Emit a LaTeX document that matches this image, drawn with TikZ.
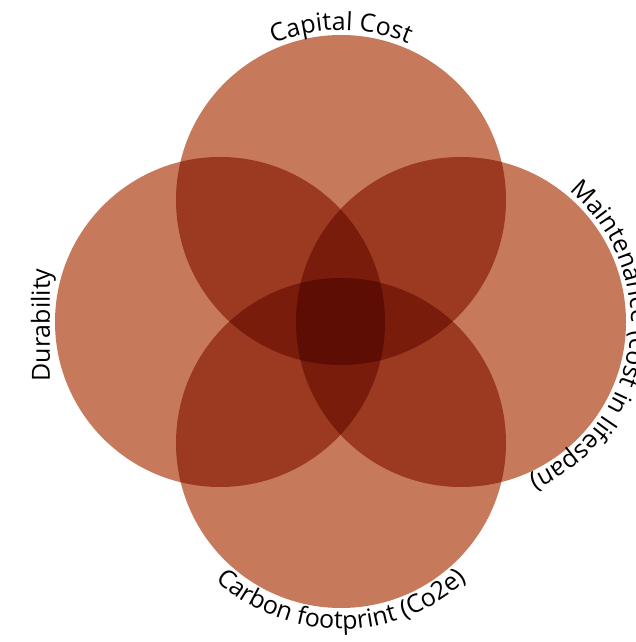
\documentclass[tikz,border=0pt]{standalone}
\usepackage{fontspec}
\setmainfont{Open Sans}
\usetikzlibrary{decorations.text}
\definecolor{cA}{RGB}{199,122,91}
\definecolor{cB}{RGB}{155,58,32}
\definecolor{cC}{RGB}{121,28,11}
\definecolor{cD}{RGB}{94,13,4}
\newcommand{\tfont}{\fontsize{25}{29}\selectfont}
\begin{document}
\begin{tikzpicture}[x=1pt,y=1pt,
  curvedlabel/.style={decorate, decoration={text along path, text align=center, text={|\tfont|#1}}}]
\useasboundingbox (0,0) rectangle (635,642);
\clip (0,0) rectangle (635,642);
\coordinate (T) at (341,442);
\coordinate (L) at (220,320);
\coordinate (R) at (461,320);
\coordinate (B) at (341,199);
\def\rr{165pt}
% single
\foreach \c in {T,L,R,B} {\fill[cA] (\c) circle[radius=\rr];}
% pairs
\foreach \a/\b in {T/L,T/R,B/L,B/R,T/B,L/R} {
  \begin{scope}\clip (\a) circle[radius=\rr]; \fill[cB] (\b) circle[radius=\rr];\end{scope}}
% triples
\foreach \a/\b/\c in {T/L/R,T/L/B,T/R/B,L/R/B} {
  \begin{scope}\clip (\a) circle[radius=\rr]; \clip (\b) circle[radius=\rr]; \fill[cC] (\c) circle[radius=\rr];\end{scope}}
% quadruple
\begin{scope}\clip (T) circle[radius=\rr]; \clip (L) circle[radius=\rr]; \clip (R) circle[radius=\rr]; \fill[cD] (B) circle[radius=\rr];\end{scope}
% labels
\path[curvedlabel={Capital Cost}] (T) ++(130:170pt) arc[start angle=130, end angle=50, radius=170pt];
\path[curvedlabel={Maintenance (cost in lifespan)}] (R) ++(80:170pt) arc[start angle=80, end angle=-96, radius=170pt];
\path[curvedlabel={Carbon footprint (Co2e)}] (B) ++(205:186pt) arc[start angle=205, end angle=335, radius=186pt];
\node[rotate=90, anchor=base, font=\tfont, inner sep=0pt] (dur) at (50,317) {Durability};
\end{tikzpicture}
\end{document}
